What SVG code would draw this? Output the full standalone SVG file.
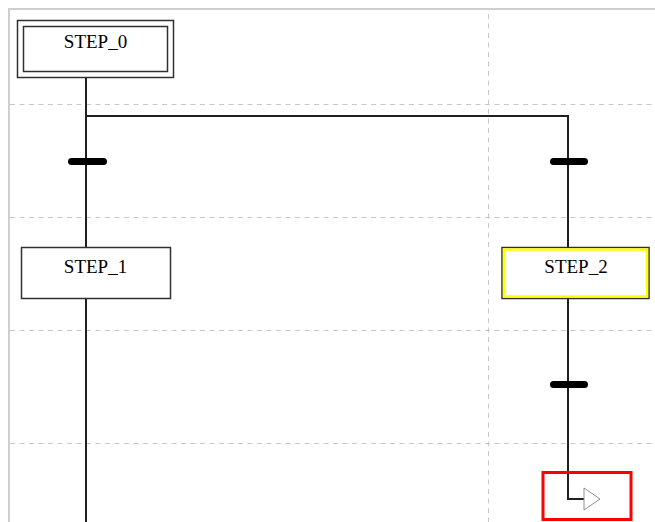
<svg xmlns="http://www.w3.org/2000/svg" width="655" height="522" viewBox="0 0 655 522">
<style>
.frame{stroke:#cfcfcf;stroke-width:2;fill:none}
.grid{stroke:#c8c8c8;stroke-width:1;stroke-dasharray:5 4.5;fill:none}
.wire{stroke:#202020;stroke-width:2;fill:none}
.box{fill:#ffffff;stroke:#303030;stroke-width:1.5}
.bar{fill:#000000}
.lbl{font-family:"Liberation Serif","Times New Roman",serif;font-size:19px;fill:#000;text-anchor:middle}
</style>
<rect x="0" y="0" width="655" height="522" fill="#ffffff"/>
<g id="frame">
<line class="frame" x1="8" y1="9" x2="655" y2="9"/>
<line class="frame" x1="9" y1="8" x2="9" y2="522"/>
</g>
<g id="grid">
<line class="grid" x1="10" y1="104.5" x2="655" y2="104.5"/>
<line class="grid" x1="10" y1="217.5" x2="655" y2="217.5"/>
<line class="grid" x1="10" y1="330.5" x2="655" y2="330.5"/>
<line class="grid" x1="10" y1="443.5" x2="655" y2="443.5"/>
<line class="grid" x1="488.5" y1="14" x2="488.5" y2="522"/>
</g>
<g id="connectors">
<line class="wire" x1="86" y1="77" x2="86" y2="522"/>
<polyline class="wire" points="86,116 568,116 568,247"/>
<polyline class="wire" points="568,299 568,499 584,499"/>
<polygon points="584,488 600,499 584,510" fill="#ffffff" stroke="#909090" stroke-width="1"/>
</g>
<g id="step0">
<rect class="box" x="17.5" y="20.5" width="156" height="57"/>
<rect class="box" x="23.5" y="26.5" width="144" height="45"/>
<text class="lbl" x="95.5" y="48">STEP_0</text>
</g>
<g id="trans_left">
<rect class="bar" x="68" y="158" width="39" height="7" rx="3.5"/>
</g>
<g id="trans_right1">
<rect class="bar" x="550" y="158" width="38" height="7" rx="3.5"/>
</g>
<g id="step1">
<rect class="box" x="21.5" y="247.5" width="149" height="51"/>
<text class="lbl" x="95.5" y="273">STEP_1</text>
</g>
<g id="step2">
<rect x="502" y="247.5" width="147" height="51" fill="#ffffff" stroke="#303030" stroke-width="1.5"/>
<rect x="504" y="249.5" width="143" height="47" fill="none" stroke="#ffff00" stroke-width="2.5"/>
<text class="lbl" x="576" y="273">STEP_2</text>
</g>
<g id="trans_right2">
<rect class="bar" x="550" y="381" width="38" height="7" rx="3.5"/>
</g>
<g id="highlight">
<rect x="543" y="472.5" width="88" height="47" fill="none" stroke="#ff0000" stroke-width="3"/>
</g>
</svg>
